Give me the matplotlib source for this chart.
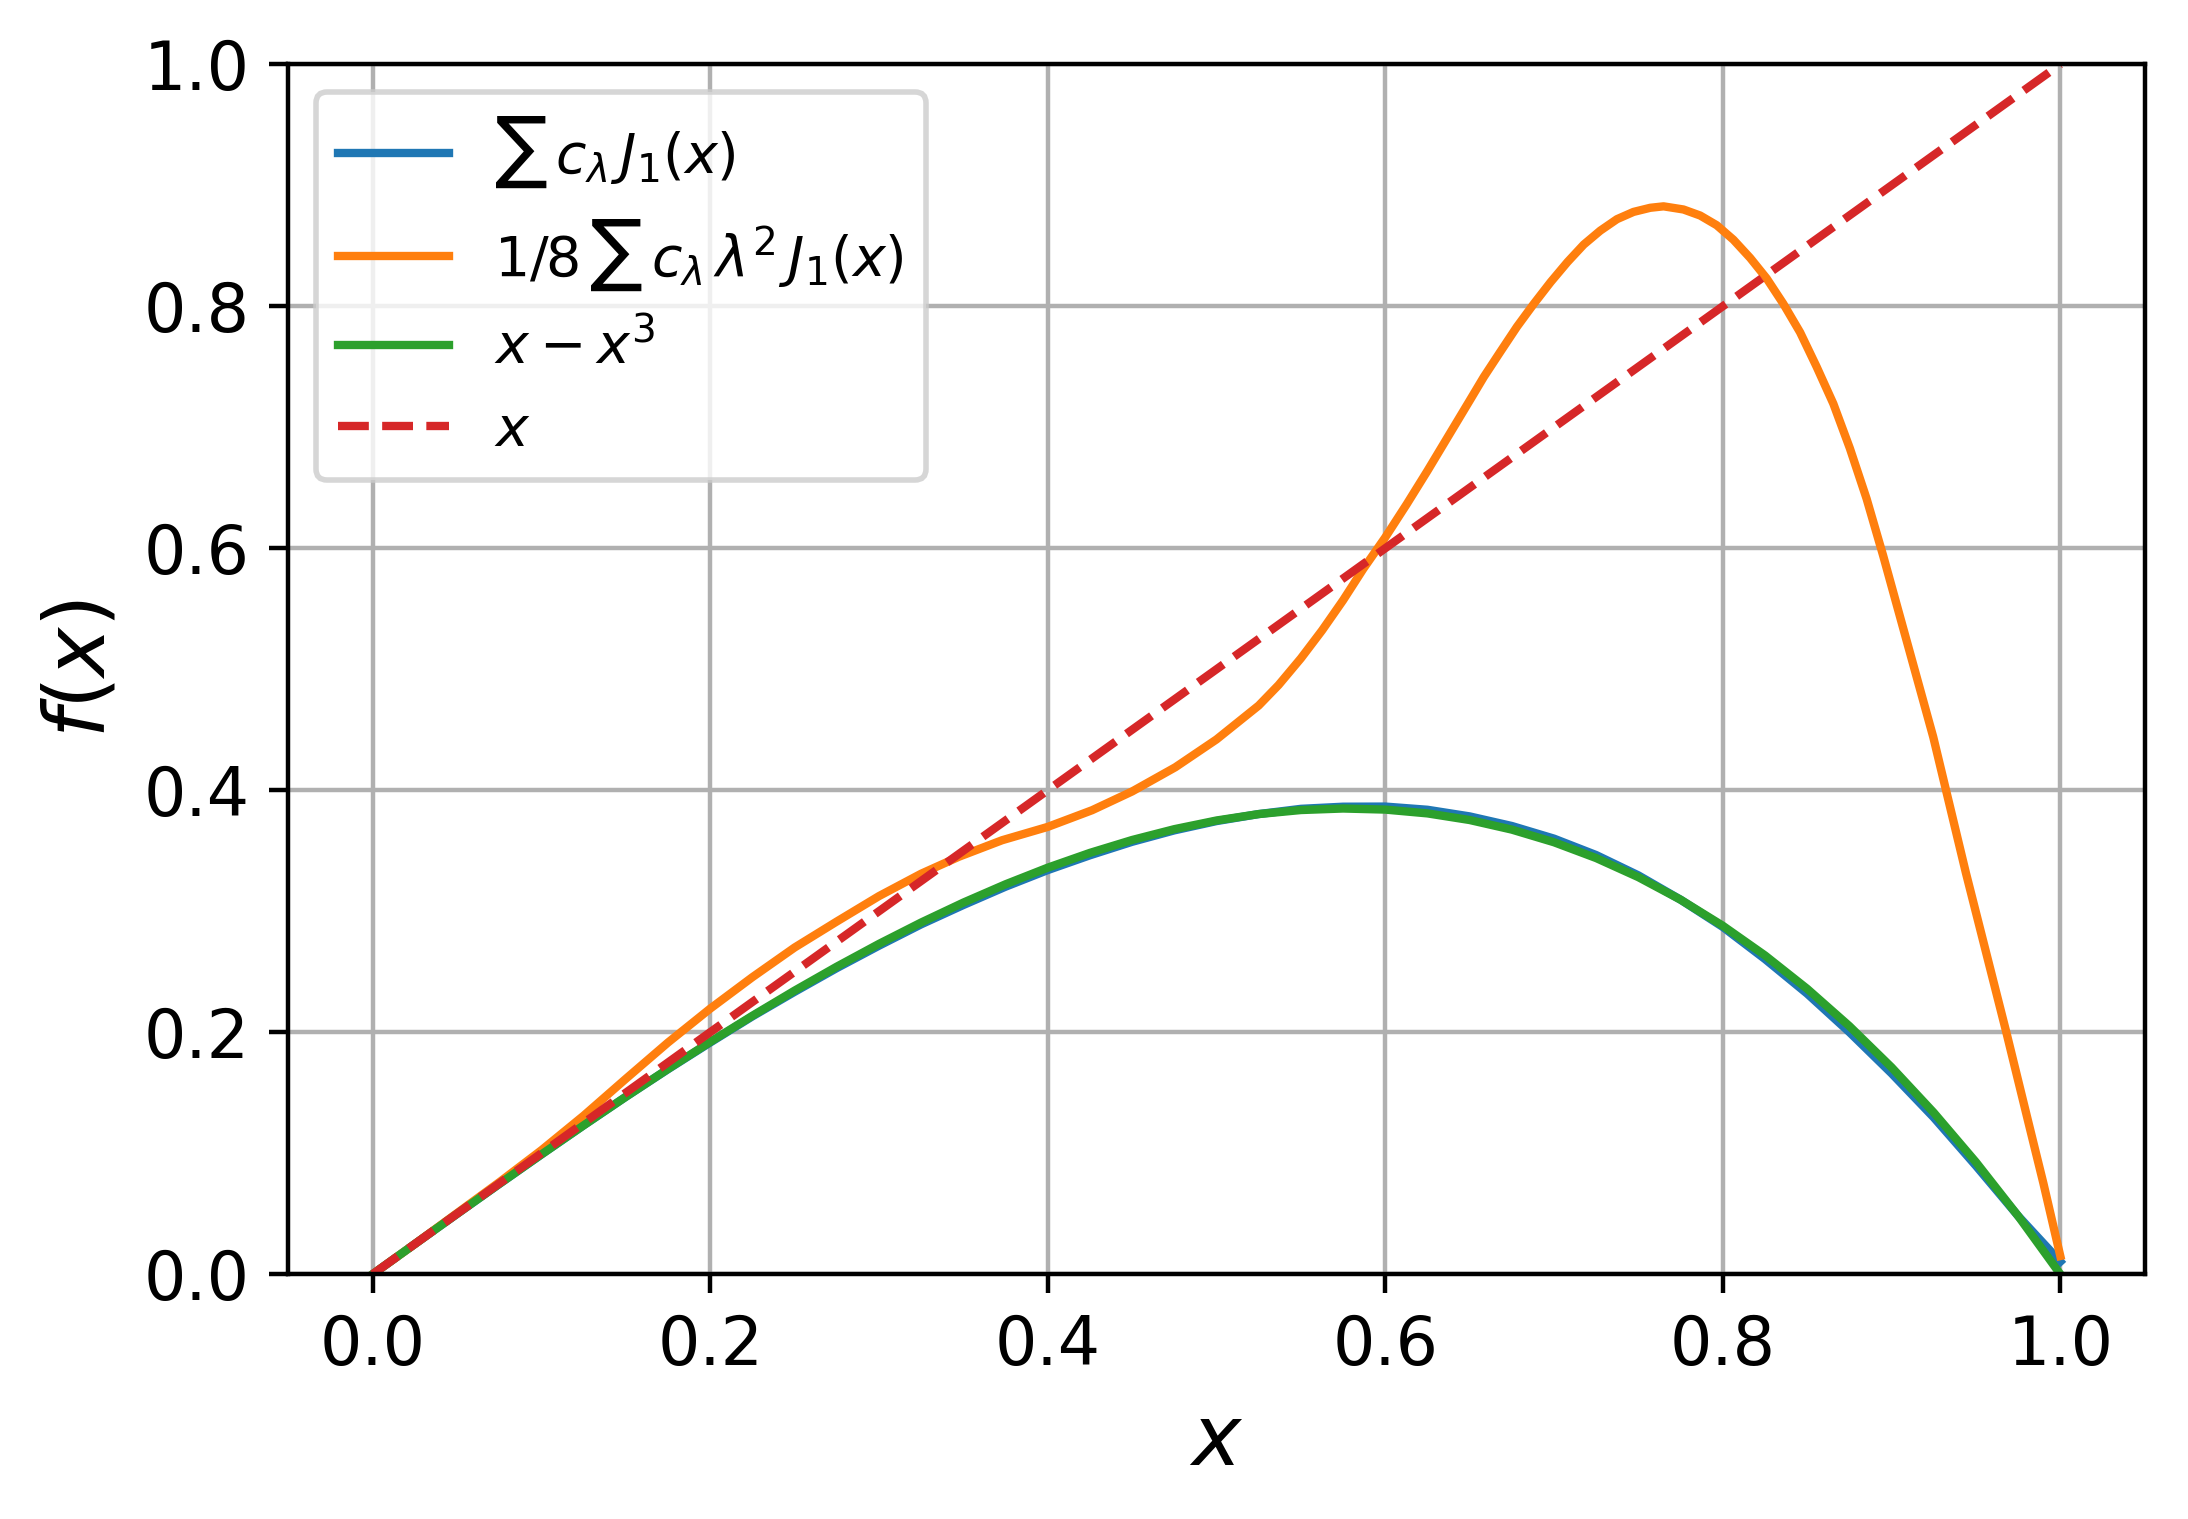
import matplotlib
matplotlib.use("Agg")
import matplotlib.pyplot as plt

# ---- data ----
x_grid = [0.0, 0.025, 0.05, 0.075, 0.1, 0.125, 0.15, 0.175, 0.2, 0.225,
          0.25, 0.275, 0.3, 0.325, 0.35, 0.375, 0.4, 0.425, 0.45, 0.475,
          0.5, 0.525, 0.55, 0.575, 0.6, 0.625, 0.65, 0.675, 0.7, 0.725,
          0.75, 0.775, 0.8, 0.825, 0.85, 0.875, 0.9, 0.925, 0.95, 0.975, 1.0]

# x - x^3 (green)
y_poly = [0.0, 0.02498, 0.04988, 0.07458, 0.099, 0.12305, 0.14663, 0.16964,
          0.192, 0.21361, 0.23438, 0.2542, 0.273, 0.29067, 0.30713, 0.32227,
          0.336, 0.34823, 0.35888, 0.36783, 0.375, 0.3803, 0.38363, 0.38489,
          0.384, 0.38086, 0.37538, 0.36745, 0.357, 0.34392, 0.32813, 0.30952,
          0.288, 0.26348, 0.23588, 0.20508, 0.171, 0.13355, 0.09263, 0.04814,
          0.0]

# sum c_lambda J1 (blue) - truncated Bessel series
y_bessel = [0.0, 0.02498, 0.04988, 0.07458, 0.099, 0.12305, 0.14663, 0.16944,
            0.1915, 0.21311, 0.23338, 0.2530, 0.2715, 0.28917, 0.30513, 0.32027,
            0.334, 0.34623, 0.35738, 0.36683, 0.3745, 0.3803, 0.38463, 0.38639,
            0.3865, 0.38386, 0.37838, 0.37045, 0.360, 0.34642, 0.32963, 0.30952,
            0.287, 0.26048, 0.23188, 0.20008, 0.166, 0.12955, 0.08963, 0.04814,
            0.0104]

# 1/8 sum c_lambda lambda^2 J1 (orange)
x_deriv = [0.0, 0.025, 0.05, 0.075, 0.1, 0.125, 0.15, 0.175, 0.2, 0.225,
           0.25, 0.275, 0.3, 0.325, 0.3473, 0.373, 0.4, 0.4263, 0.45, 0.4756,
           0.5, 0.525, 0.5368, 0.55, 0.5625, 0.575, 0.587, 0.6, 0.6128, 0.625,
           0.6375, 0.65, 0.6584, 0.668, 0.678, 0.688, 0.698, 0.708, 0.7176,
           0.7274, 0.7373, 0.7471, 0.757, 0.7649, 0.7767, 0.7866, 0.7964,
           0.8063, 0.8162, 0.826, 0.8359, 0.8458, 0.8556, 0.8655, 0.8753,
           0.8852, 0.895, 0.9049, 0.9148, 0.9247, 0.944, 0.956, 0.968, 0.981,
           0.99, 1.0]
y_deriv = [0.0, 0.025, 0.0505, 0.076, 0.1025, 0.131, 0.1615, 0.1915, 0.2195, 0.2455,
           0.270, 0.2915, 0.3125, 0.331, 0.345, 0.3587, 0.3697, 0.3835, 0.399, 0.419,
           0.442, 0.470, 0.487, 0.509, 0.532, 0.557, 0.583, 0.609, 0.6366, 0.664,
           0.693, 0.722, 0.7416, 0.762, 0.783, 0.802, 0.820, 0.8366, 0.851,
           0.8625, 0.872, 0.878, 0.8814, 0.8826, 0.880, 0.875, 0.867,
           0.855, 0.840, 0.823, 0.802, 0.7785, 0.750, 0.7195, 0.6826,
           0.641, 0.594, 0.544, 0.494, 0.444, 0.332, 0.266, 0.200, 0.126,
           0.075, 0.015]

x_line = [0.0, 1.0]
y_line = [0.0, 1.0]

labels = [r'$\sum\, c_\lambda\, J_1(x)$',
          r'$1/8\,\sum\, c_\lambda\, \lambda^2\, J_1(x)$',
          r'$x - x^3$',
          r'$x$']

x_ticks = [0.0, 0.2, 0.4, 0.6, 0.8, 1.0]
y_ticks = [0.0, 0.2, 0.4, 0.6, 0.8, 1.0]

# ---- figure ----
DPI = 400
fig = plt.figure(figsize=(2188 / DPI, 1519 / DPI), dpi=DPI)
ax = fig.add_axes([0.13176, 0.16116, 0.84845, 0.79651])

ax.plot(x_grid, y_bessel, color='C0', lw=1.5, label=labels[0])
ax.plot(x_deriv, y_deriv, color='C1', lw=1.5, label=labels[1])
ax.plot(x_grid, y_poly, color='C2', lw=1.5, label=labels[2])
ax.plot(x_line, y_line, color='C3', lw=1.5, ls='--', label=labels[3])

ax.set_xlim(-0.05, 1.05)
ax.set_ylim(0, 1)
ax.set_xticks(x_ticks)
ax.set_yticks(y_ticks)
ax.tick_params(labelsize=12)
ax.grid(True)
ax.set_xlabel(r'$x$', fontsize=15)
ax.set_ylabel(r'$f(x)$', fontsize=15)
ax.legend(loc='upper left', fontsize=10)

fig.savefig('out.png', dpi=DPI)
